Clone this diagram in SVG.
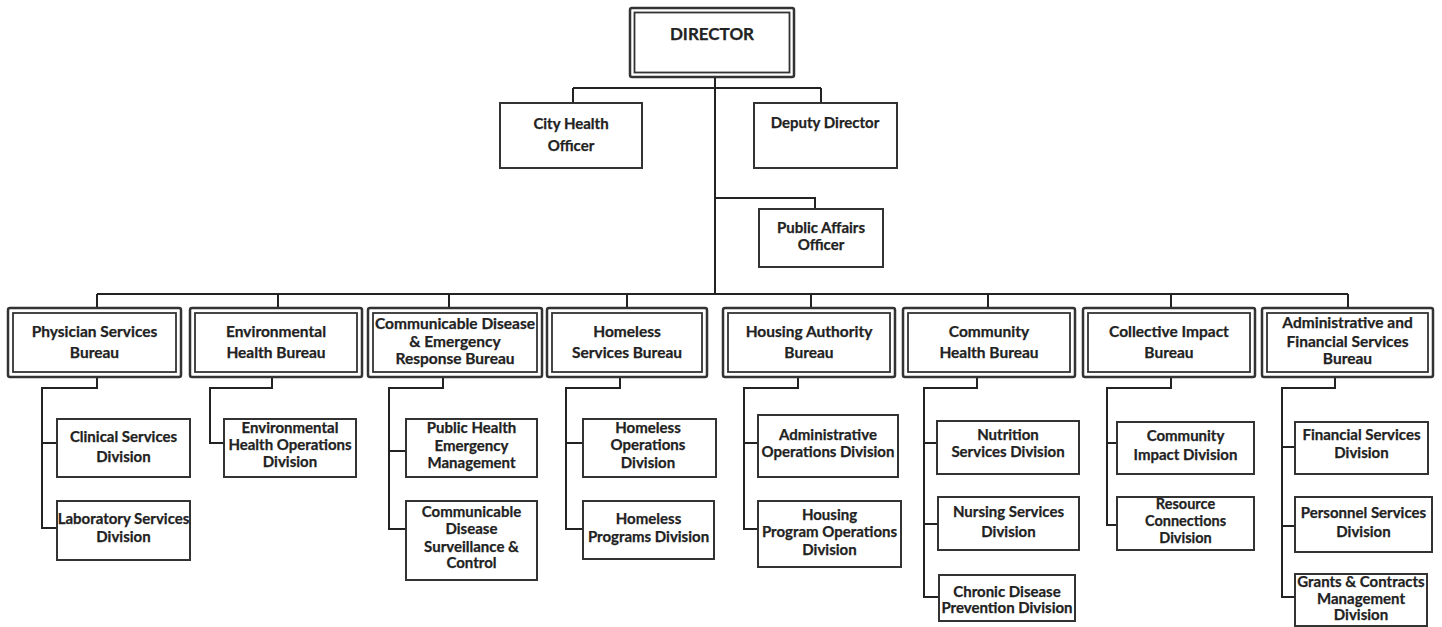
<svg xmlns="http://www.w3.org/2000/svg" width="1442" height="627" viewBox="0 0 1442 627">
<style>
.o{fill:#fff;stroke:#333;stroke-width:2.5}
.i{fill:none;stroke:#333;stroke-width:1.8}
.d{fill:#fff;stroke:#333;stroke-width:2}
.c{fill:none;stroke:#222;stroke-width:2}
text{font-family:Lato,"Liberation Sans",sans-serif;font-weight:bold;fill:#222;stroke:#222;stroke-width:0.25;text-anchor:middle}
.tb{font-size:15.5px}
.td{font-size:15px}
.ts{font-size:14.5px}
</style>
<rect width="1442" height="627" fill="#fff"/>
<g id="connectors" class="c">
<path d="M715 77V294M573 88H821M573 88V103M821 88V103M715 198H815V209"/>
<path d="M97 294H1348M97 294V308M278 294V308M449 294V308M627 294V308M811 294V308M988 294V308M1171 294V308M1348 294V308"/>
<path d="M97 377V388H42V528H57M42 443H57"/>
<path d="M272 377V388H210V443H224"/>
<path d="M443 377V388H389V529H406M389 451H406"/>
<path d="M620 377V388H566V529H583M566 443H583"/>
<path d="M798 377V388H744V529H758M744 443H758"/>
<path d="M977 377V388H924V597H939M924 443H937M924 524H938"/>
<path d="M1171 377V388H1107V525H1117M1107 443H1117"/>
<path d="M1335 377V388H1282V597H1295M1282 447H1295M1282 526H1295"/>
</g>
<g id="director">
<rect class="o" x="630" y="8" width="164" height="69" rx="2"/>
<rect class="i" x="634.5" y="12.5" width="155" height="60"/>
<text x="712" y="40" style="font-size:17px">DIRECTOR</text>
</g>
<g id="city-health-officer">
<rect class="d" x="500" y="103" width="142" height="65"/>
<text class="td" x="571" y="129">City Health</text>
<text class="td" x="571" y="151">Officer</text>
</g>
<g id="deputy-director">
<rect class="d" x="754" y="103" width="143" height="65"/>
<text class="td" x="825" y="128">Deputy Director</text>
</g>
<g id="public-affairs-officer">
<rect class="d" x="759" y="209" width="124" height="58"/>
<text class="td" x="821" y="233">Public Affairs</text>
<text class="td" x="821" y="250">Officer</text>
</g>
<g id="physician-services-bureau">
<rect class="o" x="8" y="308" width="173" height="69" rx="2"/>
<rect class="i" x="13" y="313" width="163" height="59"/>
<text class="tb" x="94.5" y="337">Physician Services</text>
<text class="tb" x="94.5" y="358">Bureau</text>
</g>
<g id="environmental-health-bureau">
<rect class="o" x="190" y="308" width="172" height="69" rx="2"/>
<rect class="i" x="195" y="313" width="162" height="59"/>
<text class="tb" x="276" y="337">Environmental</text>
<text class="tb" x="276" y="358">Health Bureau</text>
</g>
<g id="communicable-disease-bureau">
<rect class="o" x="368" y="308" width="174" height="69" rx="2"/>
<rect class="i" x="373" y="313" width="164" height="59"/>
<text class="tb" x="455" y="329">Communicable Disease</text>
<text class="tb" x="455" y="347">&amp; Emergency</text>
<text class="tb" x="455" y="364">Response Bureau</text>
</g>
<g id="homeless-services-bureau">
<rect class="o" x="547" y="308" width="160" height="69" rx="2"/>
<rect class="i" x="552" y="313" width="150" height="59"/>
<text class="tb" x="627" y="337">Homeless</text>
<text class="tb" x="627" y="358">Services Bureau</text>
</g>
<g id="housing-authority-bureau">
<rect class="o" x="723" y="308" width="172" height="69" rx="2"/>
<rect class="i" x="728" y="313" width="162" height="59"/>
<text class="tb" x="809" y="337">Housing Authority</text>
<text class="tb" x="809" y="358">Bureau</text>
</g>
<g id="community-health-bureau">
<rect class="o" x="903" y="308" width="172" height="69" rx="2"/>
<rect class="i" x="908" y="313" width="162" height="59"/>
<text class="tb" x="989" y="337">Community</text>
<text class="tb" x="989" y="358">Health Bureau</text>
</g>
<g id="collective-impact-bureau">
<rect class="o" x="1083" y="308" width="172" height="69" rx="2"/>
<rect class="i" x="1088" y="313" width="162" height="59"/>
<text class="tb" x="1169" y="337">Collective Impact</text>
<text class="tb" x="1169" y="358">Bureau</text>
</g>
<g id="administrative-financial-bureau">
<rect class="o" x="1262" y="308" width="171" height="69" rx="2"/>
<rect class="i" x="1267" y="313" width="161" height="59"/>
<text class="tb" x="1347.5" y="328">Administrative and</text>
<text class="tb" x="1347.5" y="347">Financial Services</text>
<text class="tb" x="1347.5" y="364">Bureau</text>
</g>
<g id="clinical-services-division">
<rect class="d" x="57" y="419" width="133" height="58"/>
<text class="td" x="123.5" y="442">Clinical Services</text>
<text class="td" x="123.5" y="462">Division</text>
</g>
<g id="laboratory-services-division">
<rect class="d" x="57" y="501" width="133" height="59"/>
<text class="td" x="123.5" y="524">Laboratory Services</text>
<text class="td" x="123.5" y="542">Division</text>
</g>
<g id="environmental-health-operations-division">
<rect class="d" x="224" y="419" width="132" height="58"/>
<text class="td" x="290" y="433">Environmental</text>
<text class="td" x="290" y="450">Health Operations</text>
<text class="td" x="290" y="467">Division</text>
</g>
<g id="public-health-emergency-management">
<rect class="d" x="406" y="419" width="131" height="58"/>
<text class="td" x="471.5" y="433">Public Health</text>
<text class="td" x="471.5" y="451">Emergency</text>
<text class="td" x="471.5" y="468">Management</text>
</g>
<g id="communicable-disease-surveillance-control">
<rect class="d" x="406" y="501" width="131" height="79"/>
<text class="td" x="471.5" y="517">Communicable</text>
<text class="td" x="471.5" y="534">Disease</text>
<text class="td" x="471.5" y="552">Surveillance &amp;</text>
<text class="td" x="471.5" y="568">Control</text>
</g>
<g id="homeless-operations-division">
<rect class="d" x="583" y="419" width="133" height="58"/>
<text class="td" x="648" y="433">Homeless</text>
<text class="td" x="648" y="450">Operations</text>
<text class="td" x="648" y="468">Division</text>
</g>
<g id="homeless-programs-division">
<rect class="d" x="583" y="501" width="131" height="58"/>
<text class="td" x="648.5" y="524">Homeless</text>
<text class="td" x="648.5" y="542">Programs Division</text>
</g>
<g id="administrative-operations-division">
<rect class="d" x="758" y="415" width="140" height="62"/>
<text class="td" x="828" y="440">Administrative</text>
<text class="td" x="828" y="457">Operations Division</text>
</g>
<g id="housing-program-operations-division">
<rect class="d" x="758" y="501" width="143" height="66"/>
<text class="td" x="829.5" y="520">Housing</text>
<text class="td" x="829.5" y="537">Program Operations</text>
<text class="td" x="829.5" y="555">Division</text>
</g>
<g id="nutrition-services-division">
<rect class="d" x="937" y="421" width="142" height="53"/>
<text class="td" x="1008" y="440">Nutrition</text>
<text class="td" x="1008" y="457">Services Division</text>
</g>
<g id="nursing-services-division">
<rect class="d" x="938" y="497" width="141" height="53"/>
<text class="td" x="1008.5" y="517">Nursing Services</text>
<text class="td" x="1008.5" y="537">Division</text>
</g>
<g id="chronic-disease-prevention-division">
<rect class="d" x="939" y="575" width="136" height="46"/>
<text class="td" x="1007" y="597">Chronic Disease</text>
<text class="td" x="1007" y="613">Prevention Division</text>
</g>
<g id="community-impact-division">
<rect class="d" x="1117" y="422" width="137" height="52"/>
<text class="td" x="1185.5" y="441">Community</text>
<text class="td" x="1185.5" y="460">Impact Division</text>
</g>
<g id="resource-connections-division">
<rect class="d" x="1117" y="497" width="137" height="53"/>
<text class="ts" x="1185.5" y="509">Resource</text>
<text class="ts" x="1185.5" y="526">Connections</text>
<text class="ts" x="1185.5" y="543">Division</text>
</g>
<g id="financial-services-division">
<rect class="d" x="1295" y="422" width="133" height="52"/>
<text class="td" x="1361.5" y="440">Financial Services</text>
<text class="td" x="1361.5" y="458">Division</text>
</g>
<g id="personnel-services-division">
<rect class="d" x="1295" y="497" width="137" height="55"/>
<text class="td" x="1363.5" y="518">Personnel Services</text>
<text class="td" x="1363.5" y="537">Division</text>
</g>
<g id="grants-contracts-management-division">
<rect class="d" x="1295" y="574" width="132" height="52"/>
<text class="td" x="1361" y="587">Grants &amp; Contracts</text>
<text class="td" x="1361" y="604">Management</text>
<text class="td" x="1361" y="620">Division</text>
</g>
</svg>
